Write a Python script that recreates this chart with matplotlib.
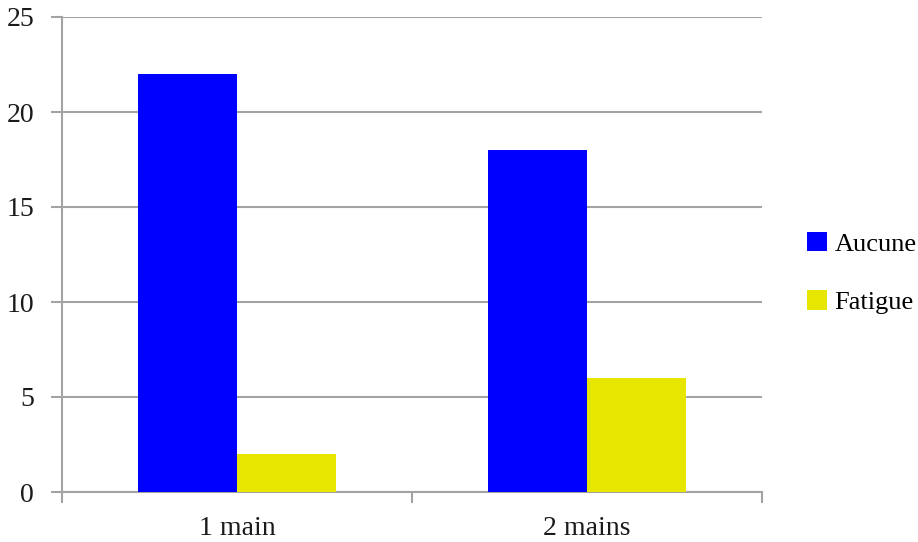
import matplotlib
matplotlib.use("Agg")
import matplotlib.pyplot as plt
import numpy as np

categories = ["1 main", "2 mains"]
series_names = ["Aucune", "Fatigue"]
aucune = [22, 18]
fatigue = [2, 6]
colors = ["#0000ff", "#e6e600"]
y_ticks = [0, 5, 10, 15, 20, 25]

plt.rcParams["font.family"] = ["Liberation Serif", "DejaVu Serif"]

fig = plt.figure(figsize=(9.18, 5.42), dpi=100)
ax = fig.add_axes([62 / 918, 1 - 492 / 542, 700 / 918, 475 / 542])

centers = np.arange(len(categories)) + 0.5
w = 0.284
b1 = ax.bar(centers - w / 2, aucune, width=w, color=colors[0], label=series_names[0], zorder=3)
b2 = ax.bar(centers + w / 2, fatigue, width=w, color=colors[1], label=series_names[1], zorder=3)

grid_c = "#a3a3a3"
fs = 20
ax.set_xlim(0, len(categories))
ax.set_ylim(0, 25)
ax.set_yticks(y_ticks)
ax.set_yticklabels([str(v) for v in y_ticks])
ax.yaxis.grid(True, color=grid_c, linewidth=1.5, zorder=0)
ax.set_axisbelow(True)

ax.set_xticks(np.arange(len(categories) + 1))
ax.set_xticklabels([])
ax.set_xticks(centers, minor=True)
ax.set_xticklabels(categories, minor=True)
ax.tick_params(axis="x", which="major", length=8, width=1.5, color=grid_c, direction="out")
ax.tick_params(axis="x", which="minor", length=0, pad=17, labelsize=fs, labelcolor="#1a1a1a")
ax.tick_params(axis="y", length=8, width=1.5, color=grid_c, pad=12, labelsize=fs, labelcolor="#1a1a1a")

for s in ["top", "right"]:
    ax.spines[s].set_visible(False)
for s in ["left", "bottom"]:
    ax.spines[s].set_color(grid_c)
    ax.spines[s].set_linewidth(1.5)

fig.legend(handles=[b1, b2], labels=series_names, loc="upper left",
           bbox_to_anchor=(807 / 918, 1 - 232 / 542), frameon=False,
           handlelength=0.75, handleheight=0.75, handletextpad=0.3,
           labelspacing=1.3, fontsize=19, borderaxespad=0, borderpad=0)

fig.savefig("out.png", dpi=100)
